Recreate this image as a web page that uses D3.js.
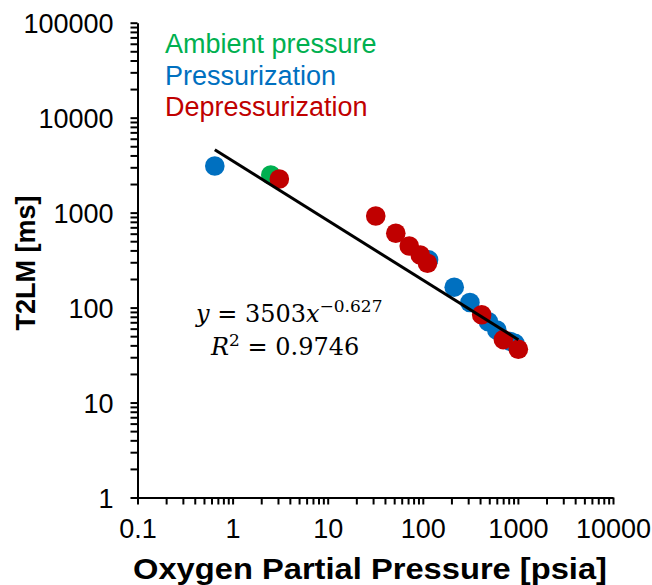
<!DOCTYPE html>
<html>
<head>
<meta charset="utf-8">
<script src="https://cdn.jsdelivr.net/npm/d3@7"></script>
<style>
  body { margin: 0; background: #fff; }
  text { font-family: "Liberation Sans", Arial, sans-serif; }
  text.eq { font-family: "DejaVu Serif", serif; }
</style>
</head>
<body>
<svg width="652" height="585"></svg>
<script>
// data
const ambientX = [2.52];
const ambientY = [2490];
const pressX = [0.65, 115, 214, 313, 490, 600, 830, 930];
const pressY = [3100, 318, 164, 113, 71, 58, 44, 42];
const deprX = [3.1, 32, 52, 72, 94, 112, 416, 703, 1011];
const deprY = [2260, 921, 606, 445, 358, 293, 84, 46, 36.4];
const xMajor = [0.1, 1, 10, 100, 1000, 10000];
const yMajor = [1, 10, 100, 1000, 10000, 100000];
const legendNames = ["Ambient pressure", "Pressurization", "Depressurization"];
const colors = ["#00b050", "#0070c0", "#c00000"];
const fitA = 3503, fitB = -0.627, fitR2 = 0.9746;

const series = [
    {x: ambientX, y: ambientY, color: colors[0]},
    {x: pressX, y: pressY, color: colors[1]},
    {x: deprX, y: deprY, color: colors[2]}
];

const svg = d3.select("svg");

const x = d3.scaleLog().domain([0.1, 10000]).range([137.5, 613]);
const y = d3.scaleLog().domain([1, 100000]).range([497.5, 22.7]);

// every 1..9 step in each decade
const minorTicks = d => d.slice(0, -1).flatMap(m => d3.range(1, 10).map(k => k * m)).concat([d[d.length - 1]]);
const fmt = v => xMajor.concat(yMajor).includes(v) ? String(v) : "";

const xAxis = svg.append("g")
    .attr("transform", "translate(0,497.5)")
    .call(d3.axisBottom(x).tickValues(minorTicks(xMajor)).tickFormat(fmt).tickSize(7).tickSizeOuter(0).tickPadding(10));

const yAxis = svg.append("g")
    .attr("transform", "translate(137.5,0)")
    .call(d3.axisLeft(y).tickValues(minorTicks(yMajor)).tickFormat(fmt).tickSize(7).tickSizeOuter(0).tickPadding(17));

[xAxis, yAxis].forEach(g => {
    g.select(".domain").attr("stroke", "#000").attr("stroke-width", 2);
    g.selectAll(".tick line").attr("stroke", "#000").attr("stroke-width", 2);
    g.selectAll(".tick text").attr("fill", "#000").style("font-size", "27px");
});
xAxis.selectAll(".tick text").attr("dy", "0.88em");
yAxis.selectAll(".tick text").attr("dy", "0.36em");

// axis titles
svg.append("text")
    .attr("x", 370).attr("y", 579)
    .attr("text-anchor", "middle")
    .style("font-size", "30px").style("font-weight", "bold")
    .attr("textLength", 474).attr("lengthAdjust", "spacingAndGlyphs")
    .text("Oxygen Partial Pressure [psia]");

svg.append("text")
    .attr("transform", "translate(35,263) rotate(-90)")
    .attr("text-anchor", "middle")
    .style("font-size", "27px").style("font-weight", "bold")
    .text("T2LM [ms]");

// points
series.forEach(s => {
    svg.append("g")
        .selectAll("circle")
        .data(d3.zip(s.x, s.y))
        .enter()
        .append("circle")
        .attr("cx", d => x(d[0]))
        .attr("cy", d => y(d[1]))
        .attr("r", 9.8)
        .attr("fill", s.color);
});

// power fit line
const allX = ambientX.concat(pressX, deprX);
const fitXs = d3.extent(allX);
svg.append("line")
    .attr("x1", x(fitXs[0])).attr("y1", y(fitA * Math.pow(fitXs[0], fitB)))
    .attr("x2", x(fitXs[1])).attr("y2", y(fitA * Math.pow(fitXs[1], fitB)))
    .attr("stroke", "#000")
    .attr("stroke-width", 3);

// legend
svg.append("g")
    .selectAll("text")
    .data(legendNames)
    .enter()
    .append("text")
    .attr("x", 165)
    .attr("y", (d, i) => 53 + i * 31.7)
    .attr("fill", (d, i) => colors[i])
    .style("font-size", "27px")
    .text(d => d);

// equation
const l1 = svg.append("text").attr("class", "eq").attr("x", 196).attr("y", 322).style("font-size", "24px");
l1.append("tspan").style("font-style", "italic").text("y");
l1.append("tspan").text(" = " + fitA);
l1.append("tspan").style("font-style", "italic").text("x");
l1.append("tspan").attr("dy", -10).style("font-size", "17px").text("\u2212" + Math.abs(fitB));
const l2 = svg.append("text").attr("class", "eq").attr("x", 211).attr("y", 355).style("font-size", "24px");
l2.append("tspan").style("font-style", "italic").text("R");
l2.append("tspan").attr("dy", -9).style("font-size", "17px").text("2");
l2.append("tspan").attr("dy", 9).text(" = " + fitR2);
</script>
</body>
</html>
